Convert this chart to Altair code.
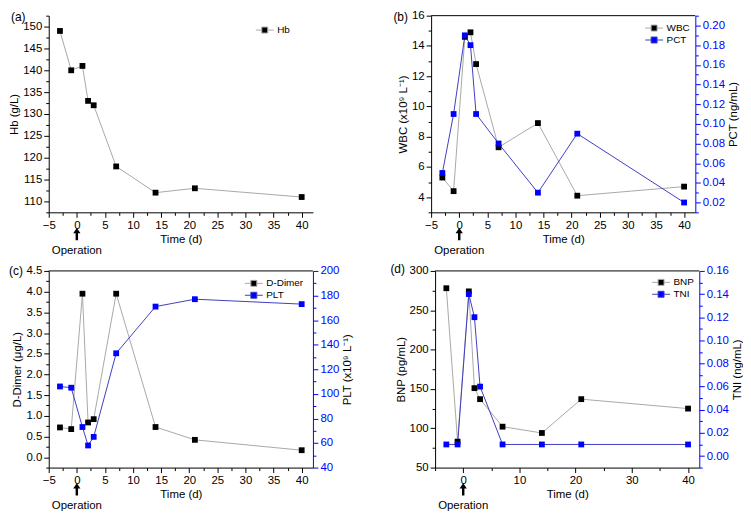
import altair as alt
import pandas as pd

# ---------------- data ----------------
days = [-3, -1, 1, 2, 3, 7, 14, 21, 40]
hb = [149, 140, 141, 133, 132, 118, 112, 113, 111]
wbc = [5.3, 4.4, 14.6, 14.9, 12.8, 7.3, 8.9, 4.1, 4.7]
pct = [0.05, 0.11, 0.19, 0.18, 0.11, 0.08, 0.03, 0.09, 0.02]
ddimer = [0.72, 0.68, 3.95, 0.84, 0.92, 3.95, 0.73, 0.42, 0.17]
plt_count = [106, 105, 73, 58, 65, 133, 171, 177, 173]
bnp = [278, 83, 274, 151, 137, 102, 94, 137, 125]
tni = [0.01, 0.01, 0.14, 0.12, 0.06, 0.01, 0.01, 0.01, 0.01]

panel_labels = ["(a)", "(b)", "(c)", "(d)"]
operation_day = [0]
operation_text = ["Operation"]

# axis tick positions (major + minor)
x_domain = [-5, 42]
x_ticks = [-5, -2.5, 0, 2.5, 5, 7.5, 10, 12.5, 15, 17.5, 20, 22.5, 25, 27.5, 30, 32.5, 35, 37.5, 40]
x_ticks_d = [-5, 0, 5, 10, 15, 20, 25, 30, 35, 40]
hb_domain = [107.5, 152.5]
hb_ticks = [107.5, 110, 112.5, 115, 117.5, 120, 122.5, 125, 127.5, 130, 132.5, 135, 137.5,
            140, 142.5, 145, 147.5, 150, 152.5]
wbc_domain = [3, 16]
wbc_ticks = [3, 4, 5, 6, 7, 8, 9, 10, 11, 12, 13, 14, 15, 16]
pct_domain = [0.01, 0.21]
pct_ticks = [0.01, 0.02, 0.03, 0.04, 0.05, 0.06, 0.07, 0.08, 0.09, 0.10, 0.11, 0.12, 0.13,
             0.14, 0.15, 0.16, 0.17, 0.18, 0.19, 0.20, 0.21]
dd_domain = [-0.25, 4.5]
dd_ticks = [-0.25, 0, 0.25, 0.5, 0.75, 1, 1.25, 1.5, 1.75, 2, 2.25, 2.5, 2.75, 3, 3.25, 3.5,
            3.75, 4, 4.25, 4.5]
plt_domain = [40, 200]
plt_ticks = [40, 50, 60, 70, 80, 90, 100, 110, 120, 130, 140, 150, 160, 170, 180, 190, 200]
bnp_domain = [50, 300]
bnp_ticks = [50, 75, 100, 125, 150, 175, 200, 225, 250, 275, 300]
tni_domain = [-0.01, 0.16]
tni_ticks = [-0.01, 0, 0.01, 0.02, 0.03, 0.04, 0.05, 0.06, 0.07, 0.08, 0.09, 0.10, 0.11,
             0.12, 0.13, 0.14, 0.15, 0.16]

# ---------------- style ----------------
W, H = 266, 198
FONT = "Liberation Sans"
GRAY_LINE = "#a8a8a8"
BLUE_LINE = "#4040c0"
BLUE = "#0000ff"
LEG_PATH = "M-1.5,0H-0.5M0.5,0H1.5M-0.5,-0.5H0.5V0.5H-0.5Z"
ARROW = "M0,-1L0.6,-0.15L0.2,-0.15L0.2,1L-0.2,1L-0.2,-0.15L-0.6,-0.15Z"


def major(step):
    return f"abs(datum.value / {step} - round(datum.value / {step})) < 0.000001"


def make_axis(orient, values, step, fmt, title, color="black"):
    cond = major(step)
    kw = dict(orient=orient, values=values, format=fmt, tickSize=5, labelPadding=2,
              labelFlush=False, labelOverlap=False, domainColor=color, tickColor=color,
              labelColor=color, grid=False, labelFontSize=11.5,
              titleFontSize=11.5, titleFontWeight="normal", titleColor="black",
              titlePadding=3, title=title,
              labelExpr=f"({cond}) ? datum.label : ''",
              tickDash={"condition": {"test": cond, "value": [8, 0]}, "value": [3, 8]})
    if orient == "right":
        kw["titleAngle"] = 270
        kw["titleBaseline"] = "top"
    return alt.Axis(**kw)


def panel(label, left, right=None, xticks=x_ticks, xstep=5, boxed=False, leg=(0, 0),
          lab_xy=(-38, -6)):
    xsc = alt.Scale(domain=x_domain, nice=False, zero=False)
    xax = make_axis("bottom", xticks, xstep, "d", "Time (d)")

    def xs():
        # identical axis definition on every layer so that they merge into one
        return alt.X("t:Q", scale=xsc, axis=xax)

    names = [left["name"]] + ([right["name"]] if right else [])
    fills = ["#000000"] + ([BLUE] if right else [])
    strokes = [GRAY_LINE] + ([BLUE_LINE] if right else [])
    legend = alt.Legend(title=None, orient="none", legendX=leg[0], legendY=leg[1],
                        symbolType=LEG_PATH, symbolSize=144, labelFontSize=10,
                        labelFont=FONT, rowPadding=0, labelOffset=6, padding=0,
                        symbolStrokeWidth=1, symbolOpacity=1)
    fscale = alt.Scale(domain=names, range=fills)
    sscale = alt.Scale(domain=names, range=strokes)

    def pts(df, ysc):
        return alt.Chart(df).mark_point(shape="square", filled=False, size=34, opacity=1,
                                        strokeWidth=0, fillOpacity=1).encode(
            x=xs(), y=alt.Y("v:Q", scale=ysc, axis=None),
            fill=alt.Fill("series:N", scale=fscale, legend=legend),
            stroke=alt.Stroke("series:N", scale=sscale, legend=legend),
        )

    ldf = pd.DataFrame({"t": days, "v": left["vals"], "series": left["name"]})
    lsc = alt.Scale(domain=left["domain"], nice=False, zero=False)
    l_line = alt.Chart(ldf).mark_line(color=GRAY_LINE, strokeWidth=1).encode(
        x=xs(),
        y=alt.Y("v:Q", scale=lsc, axis=make_axis("left", left["ticks"], left["step"],
                                                 left["fmt"], left["title"])),
    )
    layers = [l_line]

    if right:
        rdf = pd.DataFrame({"t": days, "v": right["vals"], "series": right["name"]})
        rsc = alt.Scale(domain=right["domain"], nice=False, zero=False)
        r_line = alt.Chart(rdf).mark_line(color=BLUE_LINE, strokeWidth=1).encode(
            x=xs(),
            y=alt.Y("v:Q", scale=rsc, axis=make_axis("right", right["ticks"], right["step"],
                                                     right["fmt"], right["title"], color=BLUE)),
        )
        layers += [r_line, pts(ldf, lsc), pts(rdf, rsc)]
    else:
        layers += [pts(ldf, lsc)]

    op_df = pd.DataFrame({"t": operation_day, "label": operation_text})
    op_text = alt.Chart(op_df).mark_text(fontSize=11.5, font=FONT, baseline="middle").encode(
        x=xs(), y=alt.value(H + 39), text="label:N")
    arrow = alt.Chart(op_df).mark_point(shape=ARROW, filled=True, color="black", size=150,
                                        opacity=1).encode(x=xs(), y=alt.value(H + 22))
    lab_df = pd.DataFrame({"label": [label]})
    lab = alt.Chart(lab_df).mark_text(fontSize=12, font=FONT, align="left",
                                      baseline="top").encode(
        x=alt.value(lab_xy[0]), y=alt.value(lab_xy[1]), text="label:N")
    layers += [op_text, arrow, lab]
    if boxed:
        top_line = alt.Chart(lab_df).mark_rule(color="black", strokeWidth=1).encode(
            x=alt.value(0), x2=alt.value(W), y=alt.value(0))
        layers.append(top_line)
    return (alt.layer(*layers)
            .resolve_scale(y="independent", fill="shared", stroke="shared")
            .properties(width=W, height=H))


pa = panel(panel_labels[0],
           dict(name="Hb", vals=hb, domain=hb_domain, ticks=hb_ticks, step=5, fmt="d",
                title="Hb (g/L)"),
           leg=(211, 8), lab_xy=(-38, -4))
pb = panel(panel_labels[1],
           dict(name="WBC", vals=wbc, domain=wbc_domain, ticks=wbc_ticks, step=2, fmt="d",
                title="WBC (x10⁹ L⁻¹)"),
           dict(name="PCT", vals=pct, domain=pct_domain, ticks=pct_ticks, step=0.02, fmt=".2f",
                title="PCT (ng/mL)"),
           boxed=True, leg=(218, 6), lab_xy=(-38, -4))
pc = panel(panel_labels[2],
           dict(name="D-Dimer", vals=ddimer, domain=dd_domain, ticks=dd_ticks, step=0.5,
                fmt=".1f", title="D-Dimer (μg/L)"),
           dict(name="PLT", vals=plt_count, domain=plt_domain, ticks=plt_ticks, step=20, fmt="d",
                title="PLT (x10⁹ L⁻¹)"),
           boxed=True, leg=(200, 6), lab_xy=(-40, -5))
pd_ = panel(panel_labels[3],
            dict(name="BNP", vals=bnp, domain=bnp_domain, ticks=bnp_ticks, step=50, fmt="d",
                 title="BNP (pg/mL)"),
            dict(name="TNI", vals=tni, domain=tni_domain, ticks=tni_ticks, step=0.02, fmt=".2f",
                 title="TNI (ng/mL)"),
            xticks=x_ticks_d, xstep=10, boxed=True, leg=(221, 5), lab_xy=(-45, -7))


def indep(c):
    return (c.resolve_scale(fill="independent", stroke="independent")
             .resolve_legend(fill="independent", stroke="independent"))


row1 = indep(alt.hconcat(pa, pb, spacing=81))
row2 = indep(alt.hconcat(pc, pd_, spacing=37))
chart = (
    indep(alt.vconcat(row1, row2, spacing=6, padding=0))
    .configure(font=FONT)
    .configure_view(stroke=None)
)

chart.save("out.html", embed_options={"renderer": "svg", "actions": False})
